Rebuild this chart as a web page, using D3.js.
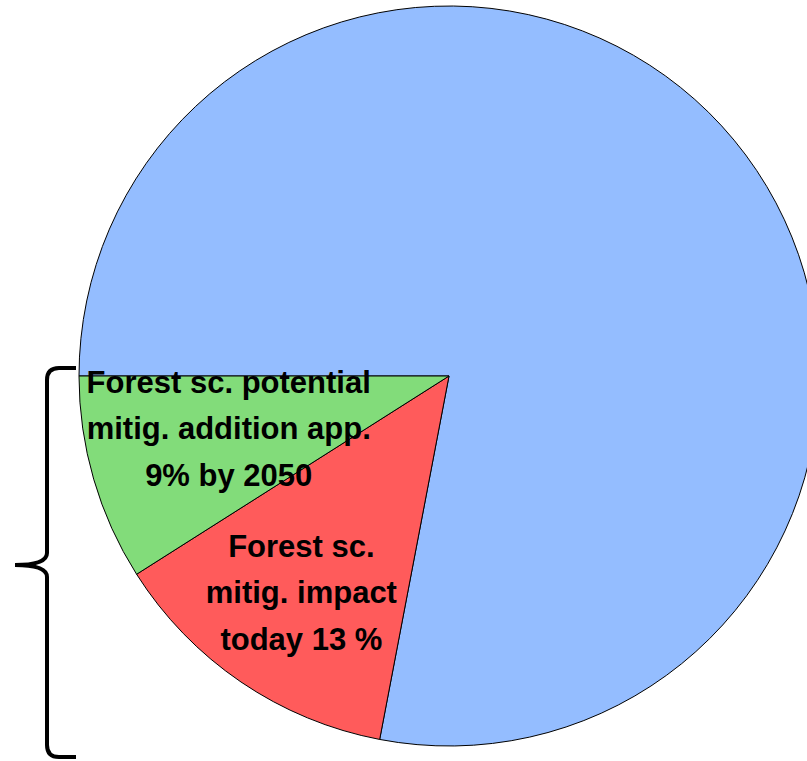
<!DOCTYPE html>
<html>
<head>
<meta charset="utf-8">
<script src="https://cdn.jsdelivr.net/npm/d3@7"></script>
<style>
  body { margin: 0; background: #fff; }
  svg { display: block; }
</style>
</head>
<body>
<div id="chart"></div>
<script>
// slice values (percent), drawn clockwise starting at 9 o'clock
var categories = ["Other", "Forest sc. mitig. impact today", "Forest sc. potential mitig. addition"];
var values = [78, 13, 9];
var colors = ["#94bdff", "#ff5b5b", "#82dc7a"];
var labels = [
  [],
  ["Forest sc.", "mitig. impact", "today 13 %"],
  ["Forest sc. potential", "mitig. addition app.", "9% by 2050"]
];
var labelRadius = [0, 0.71, 0.62];
var labelShift = [0, 10, -1];

var width = 807, height = 761;
var cx = 449, cy = 376, radius = 370;

var svg = d3.select("#chart")
  .append("svg")
  .attr("width", width)
  .attr("height", height);

var g = svg.append("g")
  .attr("transform", "translate(" + cx + "," + cy + ")");

var pie = d3.pie()
  .sort(null)
  .startAngle(-Math.PI / 2)
  .endAngle(3 * Math.PI / 2)
  .value(d => d);

var arc = d3.arc().innerRadius(0).outerRadius(radius);

var arcs = pie(values);

g.selectAll("path.slice")
  .data(arcs)
  .enter().append("path")
  .attr("class", "slice")
  .attr("d", arc)
  .attr("fill", (d, i) => colors[i])
  .attr("stroke", "#000")
  .attr("stroke-width", 1);

// labels inside the two small slices
arcs.forEach(function(d, i) {
  if (!labels[i].length) return;
  var r = radius * labelRadius[i];
  var la = d3.arc().innerRadius(r).outerRadius(r);
  var c = la.centroid(d);
  var lineH = 46.5;
  var t = g.append("text")
    .attr("text-anchor", "middle")
    .attr("font-family", "'Liberation Sans', Arial, sans-serif")
    .attr("font-weight", "bold")
    .attr("font-size", 31)
    .attr("fill", "#000");
  labels[i].forEach(function(line, j) {
    t.append("tspan")
      .attr("x", c[0])
      .attr("y", c[1] + (j - 1) * lineH + labelShift[i])
      .text(line);
  });
});

// curly brace spanning the two forest slices
var bTop = 368, bBot = 757, bMid = 565;
var xs = 76, xv = 47, xt = 15;
var p = d3.path();
p.moveTo(xs, bTop);
p.lineTo(xv + 12, bTop);
p.quadraticCurveTo(xv, bTop, xv, bTop + 12);
p.lineTo(xv, bMid - 12);
p.quadraticCurveTo(xv, bMid, xt, bMid);
p.quadraticCurveTo(xv, bMid, xv, bMid + 12);
p.lineTo(xv, bBot - 12);
p.quadraticCurveTo(xv, bBot, xv + 12, bBot);
p.lineTo(xs, bBot);

svg.append("path")
  .attr("d", p.toString())
  .attr("fill", "none")
  .attr("stroke", "#000")
  .attr("stroke-width", 4);
</script>
</body>
</html>
